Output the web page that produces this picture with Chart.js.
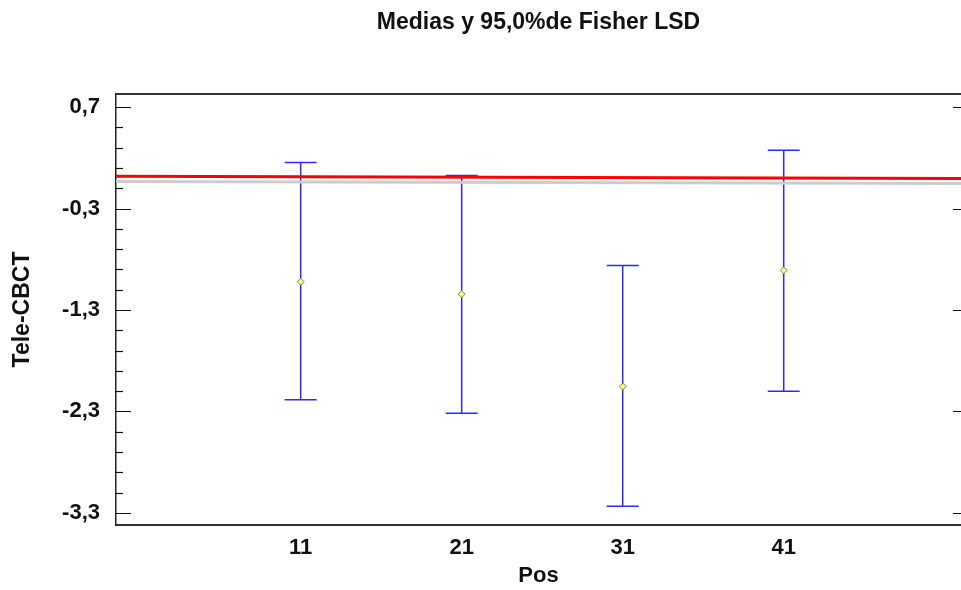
<!DOCTYPE html>
<html>
<head>
<meta charset="utf-8">
<script src="https://cdn.jsdelivr.net/npm/chart.js@4.4.0/dist/chart.umd.min.js"></script>
<style>
  html, body { margin: 0; padding: 0; background: #fff; }
  #wrap { width: 961px; height: 590px; }
</style>
</head>
<body>
<div id="wrap"><canvas id="chartCanvas" width="961" height="590"></canvas></div>
<script>
// datos
const categories = ["11", "21", "31", "41"];
const means = [-1.021, -1.143, -2.054, -0.909];
const upper = [0.154, 0.026, -0.860, 0.276];
const lower = [-2.186, -2.318, -3.236, -2.101];
const yTicks = [0.7, -0.3, -1.3, -2.3, -3.3];
const refX = [-0.147, 5.101];
const redLine = [0.019, -0.004];
const grayLine = [-0.033, -0.053];

const FONT = "'Liberation Sans', Arial, sans-serif";

// barras de error (intervalos LSD) dibujadas con las escalas del grafico
const errorBars = {
    id: "errorBars",
    beforeDatasetsDraw(chart) {
        const { ctx, scales: { x, y } } = chart;
        ctx.save();
        ctx.strokeStyle = "#2b2bff";
        ctx.lineWidth = 1.5;
        categories.forEach((c, i) => {
            const px = x.getPixelForValue(i + 1);
            const top = y.getPixelForValue(upper[i]);
            const bot = y.getPixelForValue(lower[i]);
            ctx.beginPath();
            ctx.moveTo(px, top); ctx.lineTo(px, bot);
            ctx.moveTo(px - 16, top); ctx.lineTo(px + 16, top);
            ctx.moveTo(px - 16, bot); ctx.lineTo(px + 16, bot);
            ctx.stroke();
        });
        ctx.restore();
    }
};

// marco superior y marcas de graduacion hacia dentro
const frame = {
    id: "frame",
    afterDraw(chart) {
        const { ctx, chartArea: a, scales: { y } } = chart;
        ctx.save();
        ctx.strokeStyle = "#333";
        ctx.lineWidth = 2;
        ctx.beginPath();
        ctx.moveTo(a.left, a.top); ctx.lineTo(a.right, a.top);
        ctx.stroke();
        ctx.strokeStyle = "#111";
        ctx.lineWidth = 1.2;
        const major = yTicks[0], step = 0.2;
        for (let i = 0; i <= 20; i++) {
            const v = major - step * i;
            const py = Math.round(y.getPixelForValue(v)) + 0.5;
            const len = i % 5 === 0 ? 15 : 7;
            ctx.beginPath();
            ctx.moveTo(a.left, py); ctx.lineTo(a.left + len, py);
            if (i % 5 === 0) { ctx.moveTo(a.right, py); ctx.lineTo(a.right - 8, py); }
            ctx.stroke();
        }
        ctx.restore();
    }
};

const tickFont = { family: FONT, size: 22, weight: "bold" };

new Chart(document.getElementById("chartCanvas").getContext("2d"), {
    type: "scatter",
    data: {
        datasets: [
            {
                data: refX.map((v, i) => ({ x: v, y: grayLine[i] })),
                showLine: true, borderColor: "#cccccc", borderWidth: 3, pointRadius: 0
            },
            {
                data: refX.map((v, i) => ({ x: v, y: redLine[i] })),
                showLine: true, borderColor: "#ff0000", borderWidth: 3, pointRadius: 0
            },
            {
                data: categories.map((c, i) => ({ x: i + 1, y: means[i] })),
                showLine: false, pointStyle: "rectRot", pointRadius: 3.5,
                borderColor: "#8c8c1a", backgroundColor: "#f4f49a", borderWidth: 1
            }
        ]
    },
    options: {
        responsive: false,
        animation: false,
        layout: { padding: 0, autoPadding: false },
        plugins: {
            legend: { display: false },
            tooltip: { enabled: false },
            title: {
                display: true,
                fullSize: false,
                text: "Medias y 95,0%de Fisher LSD",
                color: "#111",
                font: { family: FONT, size: 23, weight: "bold" },
                padding: { top: 9, bottom: 57.4 }
            }
        },
        scales: {
            x: {
                type: "linear",
                min: refX[0], max: refX[1],
                afterBuildTicks: s => { s.ticks = categories.map((c, i) => ({ value: i + 1 })); },
                afterFit: s => { s.height = 65; s.paddingLeft = 0; s.paddingRight = 0; },
                grid: { display: false, drawTicks: false },
                border: { display: true, color: "#333", width: 2 },
                ticks: { color: "#111", font: tickFont, padding: 10, callback: (v, i) => categories[i] },
                title: { display: true, text: "Pos", color: "#111", font: { family: FONT, size: 22, weight: "bold" }, padding: { top: 0, bottom: 1 } }
            },
            y: {
                min: -3.42, max: 0.83,
                afterBuildTicks: s => { s.ticks = yTicks.map(v => ({ value: v })); },
                afterFit: s => { s.width = 116; s.paddingTop = 0; s.paddingBottom = 0; },
                grid: { display: false, drawTicks: false },
                border: { display: true, color: "#222", width: 1.5 },
                ticks: { color: "#111", font: tickFont, padding: 16, callback: v => v.toFixed(1).replace(".", ",") },
                title: { display: true, text: "Tele-CBCT", color: "#111", font: { family: FONT, size: 23, weight: "bold" }, padding: { top: 9, bottom: 0 } }
            }
        }
    },
    plugins: [errorBars, frame]
});
</script>
</body>
</html>
